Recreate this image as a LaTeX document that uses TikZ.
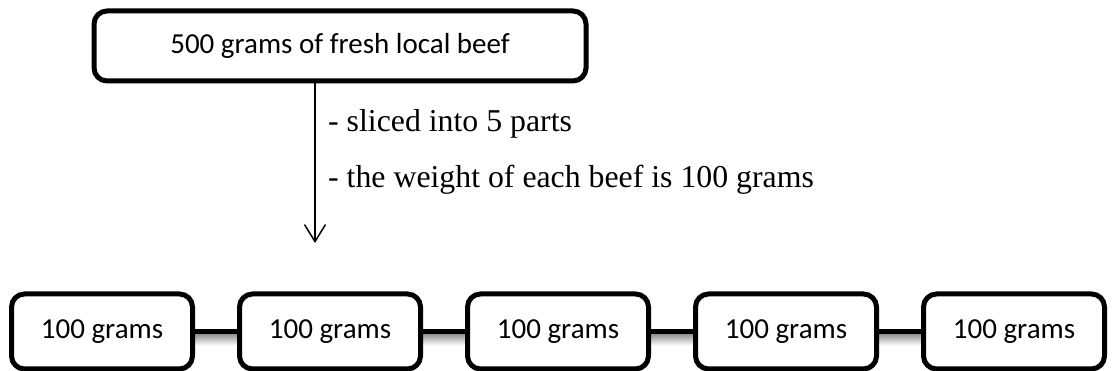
\documentclass[tikz,border=0pt]{standalone}
\usepackage{fontspec}
\setmainfont{Liberation Serif}
\newfontfamily\boxfont{Carlito}
\usetikzlibrary{arrows.meta,calc,backgrounds}

\tikzset{
  box/.style={draw=black, line width=5pt, rounded corners=13pt, fill=white,
              inner sep=0pt, font=\boxfont\fontsize{29}{34}\selectfont},
  part/.style={box, minimum width=181pt, minimum height=75pt},
  link/.style={draw=black, line width=5.5pt},
  linkshade/.style={top color=black!45, bottom color=white, draw=none},
  flow/.style={draw=black, line width=1.5pt,
               -{Straight Barb[length=17pt,width=21pt,line width=1.5pt]}},
  note/.style={anchor=base west, inner sep=0pt,
               font=\fontsize{31.8}{36}\selectfont}
}

\begin{document}
\begin{tikzpicture}[x=1pt,y=1pt]
  \useasboundingbox (0,0) rectangle (1112,371);

  % whole piece of meat
  \node[box, minimum width=492pt, minimum height=70pt] (whole) at (340,325)
    {500 grams of fresh local beef};

  % slicing step
  \coordinate (tip) at (315,128);
  \path[flow] (whole.south -| tip) -- (tip);
  \node[note] (n1) at (328,239) {- sliced into 5 parts};
  \node[note] (n2) at (328,183) {- the weight of each beef is 100 grams};

  % the five portions
  \foreach \i/\x in {1/102,2/330,3/558,4/786,5/1014}{
    \node[part] (p\i) at (\x,39.5) {100 grams};
  }

  % links between neighbouring portions, with a soft drop shade
  \begin{scope}[on background layer]
    \foreach \a/\b in {p1/p2,p2/p3,p3/p4,p4/p5}{
      \shade[linkshade] ($(\a.east)+(0,-2)$) rectangle ($(\b.west)+(0,-14)$);
      \draw[link] (\a.east) -- (\b.west);
    }
  \end{scope}
\end{tikzpicture}
\end{document}
